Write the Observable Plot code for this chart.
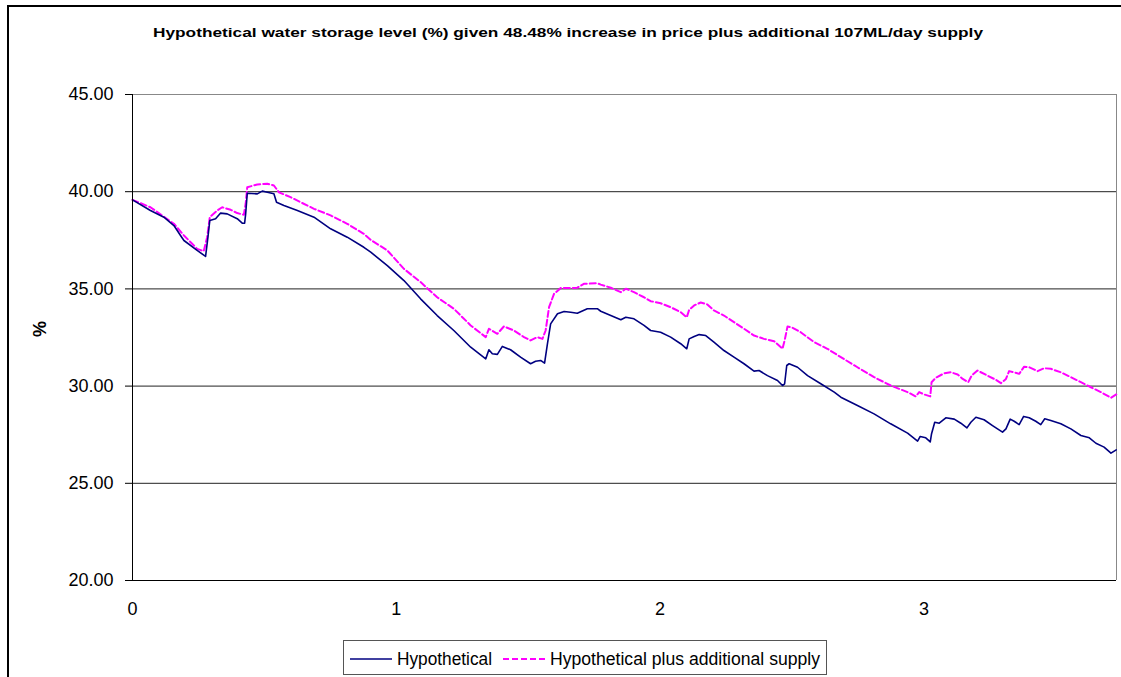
<!DOCTYPE html>
<html>
<head>
<meta charset="utf-8">
<script src="https://cdn.jsdelivr.net/npm/d3@7"></script>
<script src="https://cdn.jsdelivr.net/npm/@observablehq/plot@0.6"></script>
<style>
  html, body { margin: 0; padding: 0; background: #fff; }
  body { width: 1121px; height: 677px; overflow: hidden; position: relative; font-family: Arial, "Liberation Sans", sans-serif; }
  #frame { position: absolute; left: 7px; top: 5px; width: 1200px; height: 800px; border-left: 2px solid #000; border-top: 2px solid #000; }
  #chart { position: absolute; left: 0; top: 0; }
  #title { position: absolute; left: 0; top: 0; }
  #legend { position: absolute; left: 343px; top: 640px; width: 484px; height: 35px; border: 1px solid #555; background: #fff; box-sizing: border-box; }
  #ylabel { position: absolute; left: 40px; top: 329px; transform: translate(-50%, -50%) rotate(-90deg); font-weight: bold; font-size: 18px; }
</style>
</head>
<body>
<div id="frame"></div>
<div id="chart"></div>
<svg id="title" width="1121" height="50"><text x="153" y="37" font-family="Arial, 'Liberation Sans', sans-serif" font-weight="bold" font-size="12.5" textLength="830" lengthAdjust="spacingAndGlyphs">Hypothetical water storage level (%) given 48.48% increase in price plus additional 107ML/day supply</text></svg>
<div id="ylabel">%</div>
<div id="legend"></div>
<script>
// Series names
const seriesNames = ["Hypothetical", "Hypothetical plus additional supply"];

// Hypothetical (x = years, y = storage %)
const hypoX = [0,0.068,0.119,0.157,0.182,0.195,0.245,0.277,0.286,0.293,0.315,0.334,0.359,0.397,0.416,0.425,0.429,0.435,0.473,0.492,0.511,0.536,0.546,0.574,0.625,0.688,0.751,0.814,0.877,
  0.903,0.966,1.029,1.092,1.155,1.218,1.282,1.339,1.351,1.364,1.383,1.402,1.433,1.471,1.509,1.528,1.547,1.562,1.573,1.585,1.611,1.636,1.661,1.686,1.724,1.762,
  1.775,1.813,1.851,1.870,1.901,1.939,1.964,2.002,2.040,2.078,2.101,2.110,2.129,2.148,2.173,2.204,2.242,2.280,2.318,2.356,2.375,2.407,2.445,2.464,2.472,2.480,2.489,2.521,2.559,2.609,2.660,
  2.685,2.748,2.811,2.874,2.938,2.976,2.986,3.007,3.024,3.029,3.041,3.058,3.083,3.115,3.140,3.163,3.178,3.197,3.228,3.260,3.298,3.311,3.327,3.342,3.361,3.378,3.399,3.424,3.443,3.458,3.481,3.519,3.557,3.595,3.627,3.652,3.683,3.709,3.729];
const hypoY = [39.58,39.03,38.69,38.26,37.75,37.49,36.98,36.67,37.66,38.52,38.61,38.90,38.86,38.61,38.38,38.38,38.86,39.92,39.89,40.03,39.97,39.89,39.46,39.29,39.03,38.69,38.09,37.66,37.14,
  36.89,36.20,35.43,34.49,33.63,32.86,32.00,31.40,31.87,31.66,31.63,32.04,31.87,31.49,31.15,31.28,31.32,31.18,32.18,33.20,33.72,33.84,33.80,33.75,33.98,33.98,
  33.85,33.63,33.41,33.54,33.46,33.12,32.86,32.77,32.52,32.18,31.92,32.43,32.55,32.65,32.60,32.26,31.83,31.49,31.15,30.77,30.80,30.54,30.29,30.03,30.12,31.06,31.15,30.97,30.54,30.12,29.69,
  29.43,29.00,28.57,28.06,27.58,27.17,27.41,27.34,27.13,27.55,28.14,28.09,28.37,28.30,28.09,27.85,28.14,28.40,28.27,27.97,27.63,27.80,28.30,28.19,28.02,28.44,28.37,28.19,28.02,28.32,28.23,28.06,27.80,27.46,27.34,27.06,26.86,26.55,26.72];

// Hypothetical plus additional supply
const supplyX = [0,0.068,0.157,0.195,0.245,0.270,0.283,0.293,0.321,0.340,0.372,0.397,0.422,0.429,0.435,0.473,0.511,0.536,0.555,0.599,0.637,0.688,0.751,0.814,0.877,
  0.903,0.966,1.029,1.092,1.155,1.218,1.282,1.339,1.351,1.383,1.408,1.446,1.484,1.509,1.535,1.554,1.566,1.579,1.598,1.623,1.661,1.686,1.711,1.762,
  1.775,1.813,1.851,1.870,1.901,1.939,1.964,2.002,2.040,2.078,2.101,2.110,2.129,2.154,2.179,2.204,2.242,2.280,2.318,2.356,2.394,2.432,2.464,2.472,2.483,2.502,2.533,2.584,2.634,
  2.685,2.748,2.811,2.874,2.938,2.969,2.982,3.001,3.024,3.029,3.045,3.077,3.102,3.128,3.147,3.168,3.181,3.203,3.241,3.273,3.292,3.311,3.323,3.342,3.361,3.380,3.399,3.431,3.456,3.481,3.519,3.557,3.595,3.633,3.671,3.709,3.729];
const supplyY = [39.58,39.20,38.35,37.75,37.06,36.94,37.66,38.69,39.03,39.20,39.07,38.90,38.81,39.38,40.23,40.37,40.41,40.32,39.97,39.72,39.46,39.12,38.78,38.35,37.83,
  37.52,36.98,36.03,35.35,34.57,33.98,33.12,32.52,32.95,32.69,33.07,32.86,32.52,32.35,32.52,32.43,32.86,34.06,34.75,35.04,35.04,35.06,35.26,35.29,
  35.22,35.06,34.83,35.01,34.83,34.57,34.37,34.26,34.06,33.80,33.54,33.92,34.15,34.30,34.20,33.89,33.63,33.29,32.95,32.60,32.43,32.31,31.92,32.35,33.07,33.00,32.77,32.26,31.92,
  31.49,30.97,30.46,30.03,29.69,29.47,29.69,29.57,29.47,30.20,30.43,30.66,30.71,30.60,30.37,30.20,30.54,30.80,30.54,30.32,30.15,30.37,30.77,30.71,30.63,31.00,30.97,30.77,30.92,30.89,30.71,30.46,30.20,29.94,29.69,29.40,29.57];

// Axis ticks
const yTicks = [20, 25, 30, 35, 40, 45];
const xTicks = [0, 1, 2, 3];
const xMax = 3.73;

const colors = ["#000080", "#ff00ff"];

const hypo = hypoX.map((x, i) => ({x, y: hypoY[i]}));
const supply = supplyX.map((x, i) => ({x, y: supplyY[i]}));

const chart = Plot.plot({
  width: 1121,
  height: 640,
  marginLeft: 132,
  marginRight: 5,
  marginTop: 94,
  marginBottom: 60,
  style: {fontFamily: "Arial, 'Liberation Sans', sans-serif", fontSize: "18px", color: "#000", background: "transparent"},
  x: {domain: [0, xMax]},
  y: {domain: [20, 45]},
  marks: [
    Plot.ruleY(yTicks.filter(d => d > 20 && d < 45), {stroke: "#222", strokeWidth: 1}),
    Plot.ruleY([45], {stroke: "#888", strokeWidth: 1}),
    Plot.ruleX([xMax], {stroke: "#888", strokeWidth: 1}),
    Plot.line(supply, {x: "x", y: "y", stroke: colors[1], strokeWidth: 2, strokeDasharray: "6,3"}),
    Plot.line(hypo, {x: "x", y: "y", stroke: colors[0], strokeWidth: 1.6}),
    Plot.ruleX([0], {stroke: "#000", strokeWidth: 1}),
    Plot.ruleY([20], {stroke: "#000", strokeWidth: 1}),
    Plot.axisY(yTicks, {tickFormat: d => d.toFixed(2), tickSize: 7, tickPadding: 12, fontSize: 18, label: null}),
    Plot.axisX(xTicks, {tickFormat: d => String(d), tickSize: 0, tickPadding: 22, fontSize: 18, label: null})
  ]
});
document.getElementById("chart").appendChild(chart);

// Legend
const legend = d3.select("#legend");
const lsvg = legend.append("svg").attr("width", 482).attr("height", 33).style("display", "block");
const entries = [
  {name: seriesNames[0], color: colors[0], dash: null, x0: 6, tx: 53, len: 95},
  {name: seriesNames[1], color: colors[1], dash: "6,3", x0: 159, tx: 206, len: 270}
];
entries.forEach(e => {
  lsvg.append("line").attr("x1", e.x0).attr("x2", e.x0 + 42).attr("y1", 18).attr("y2", 18)
    .attr("stroke", e.color).attr("stroke-width", e.dash ? 2 : 1.6).attr("stroke-dasharray", e.dash);
  lsvg.append("text").attr("x", e.tx).attr("y", 24).attr("font-size", 17.5)
    .attr("textLength", e.len).attr("lengthAdjust", "spacingAndGlyphs")
    .attr("font-family", "Arial, 'Liberation Sans', sans-serif").text(e.name);
});
</script>
</body>
</html>
